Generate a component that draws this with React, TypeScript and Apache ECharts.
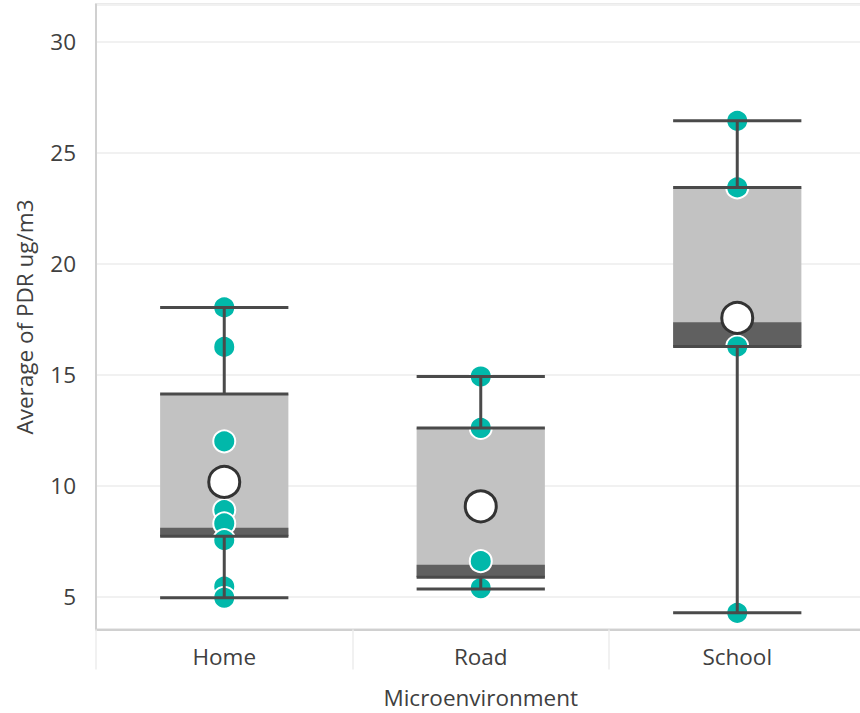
import React, { useEffect, useRef } from "react";
import * as echarts from "echarts";

const categories = ["Home", "Road", "School"];
const whiskerLow = [4.95, 5.35, 4.27];
const q1 = [7.72, 5.87, 16.27];
const median = [8.1, 6.44, 17.36];
const q3 = [14.13, 12.6, 23.44];
const whiskerHigh = [18.03, 14.92, 26.44];
const means = [10.17, 9.07, 17.56];
const homePoints = [18.03, 16.25, 12.0, 8.9, 8.3, 7.55, 5.45, 4.95];
const roadPoints = [14.92, 12.6, 6.6, 5.38];
const schoolPoints = [26.44, 23.44, 16.27, 4.27];
const yTicks = [5, 10, 15, 20, 25, 30];
const yMin = 3.52;
const yMax = 31.68;

const FONT = "'Open Sans', 'Noto Sans', sans-serif";
const TEXT = "#404040";
const FS = 22.5;

export default function App() {
  const ref = useRef<HTMLDivElement>(null);
  useEffect(() => {
    if (!ref.current) return;
    const chart = echarts.init(ref.current, undefined, { renderer: "svg" });
    const boxData = categories.map((_, i) => [i, whiskerLow[i], q1[i], median[i], q3[i], whiskerHigh[i]]);
    const pointSets = [homePoints, roadPoints, schoolPoints];
    const pointData: number[][] = [];
    pointSets.forEach((arr, i) => arr.forEach((v) => pointData.push([i, v])));
    const meanData = means.map((v, i) => [i, v]);

    const lineStyle = { stroke: "#4a4a4a", lineWidth: 3 };

    chart.setOption({
      animation: false,
      textStyle: { fontFamily: FONT },
      grid: {
        left: 96,
        top: 4.5,
        width: 769.5,
        height: 625,
        outerBoundsMode: "none",
        containLabel: false,
        show: true,
        borderColor: "#d6d6d6",
        borderWidth: 2,
        backgroundColor: "transparent",
      },
      xAxis: {
        type: "category",
        data: categories,
        boundaryGap: true,
        name: "Microenvironment",
        nameLocation: "middle",
        nameGap: 56,
        nameTextStyle: { fontSize: FS, color: TEXT, fontFamily: FONT },
        axisLine: { show: true, lineStyle: { color: "#d0d0d0", width: 2 } },
        axisTick: { show: true, length: 40, lineStyle: { color: "#ececec", width: 1.5 } },
        axisLabel: { fontSize: FS, color: TEXT, margin: 15, fontFamily: FONT },
        splitLine: { show: false },
      },
      yAxis: {
        type: "value",
        min: yMin,
        max: yMax,
        name: "Average of PDR ug/m3",
        nameLocation: "middle",
        nameRotate: 90,
        nameGap: 60,
        nameTextStyle: { fontSize: FS, color: TEXT, fontFamily: FONT },
        axisLine: { show: true, lineStyle: { color: "#d0d0d0", width: 2 } },
        axisTick: { show: false },
        axisLabel: {
          fontSize: FS,
          color: TEXT,
          margin: 20,
          fontFamily: FONT,
          showMinLabel: false,
          showMaxLabel: false,
          formatter: (v: number) => (yTicks.includes(Math.round(v * 1000) / 1000) ? String(v) : ""),
        },
        splitLine: { show: true, lineStyle: { color: "#f1f1f1", width: 2 } },
      },
      series: [
        {
          type: "custom",
          z: 1,
          silent: true,
          data: boxData,
          encode: { x: 0, y: [1, 2, 3, 4, 5] },
          renderItem: (params: any, api: any) => {
            const i = api.value(0);
            const bw = api.size([1, 0])[0] * 0.5;
            const pQ1 = api.coord([i, api.value(2)]);
            const pMed = api.coord([i, api.value(3)]);
            const pQ3 = api.coord([i, api.value(4)]);
            const x0 = pQ1[0] - bw / 2;
            return {
              type: "group",
              children: [
                { type: "rect", shape: { x: x0, y: pQ3[1], width: bw, height: pQ1[1] - pQ3[1] }, style: { fill: "#c2c2c2" } },
                { type: "rect", shape: { x: x0, y: pMed[1], width: bw, height: pQ1[1] - pMed[1] }, style: { fill: "#606060" } },
              ],
            };
          },
        },
        {
          type: "scatter",
          z: 2,
          silent: true,
          data: pointData,
          symbol: "circle",
          symbolSize: 22,
          itemStyle: { color: "#01B8AA", borderColor: "#ffffff", borderWidth: 2, opacity: 1 },
        },
        {
          type: "custom",
          z: 3,
          silent: true,
          data: boxData,
          encode: { x: 0, y: [1, 2, 3, 4, 5] },
          renderItem: (params: any, api: any) => {
            const i = api.value(0);
            const bw = api.size([1, 0])[0] * 0.5;
            const pLo = api.coord([i, api.value(1)]);
            const pQ1 = api.coord([i, api.value(2)]);
            const pQ3 = api.coord([i, api.value(4)]);
            const pHi = api.coord([i, api.value(5)]);
            const cx = pQ1[0];
            const x0 = cx - bw / 2;
            const x1 = cx + bw / 2;
            const ln = (xa: number, ya: number, xb: number, yb: number) => ({
              type: "line",
              shape: { x1: xa, y1: ya, x2: xb, y2: yb },
              style: lineStyle,
            });
            return {
              type: "group",
              children: [
                ln(cx, pHi[1], cx, pQ3[1]),
                ln(cx, pQ1[1], cx, pLo[1]),
                ln(x0, pHi[1], x1, pHi[1]),
                ln(x0, pLo[1], x1, pLo[1]),
                ln(x0, pQ3[1], x1, pQ3[1]),
                ln(x0, pQ1[1], x1, pQ1[1]),
              ],
            };
          },
        },
        {
          type: "scatter",
          z: 4,
          silent: true,
          data: meanData,
          symbol: "circle",
          symbolSize: 31,
          itemStyle: { color: "#ffffff", borderColor: "#333333", borderWidth: 3, opacity: 1 },
        },
      ],
    });
    return () => chart.dispose();
  }, []);
  return (
    <div
      ref={ref}
      style={{ position: "fixed", left: 0, top: 0, width: 860, height: 713, background: "#fff" }}
    />
  );
}
